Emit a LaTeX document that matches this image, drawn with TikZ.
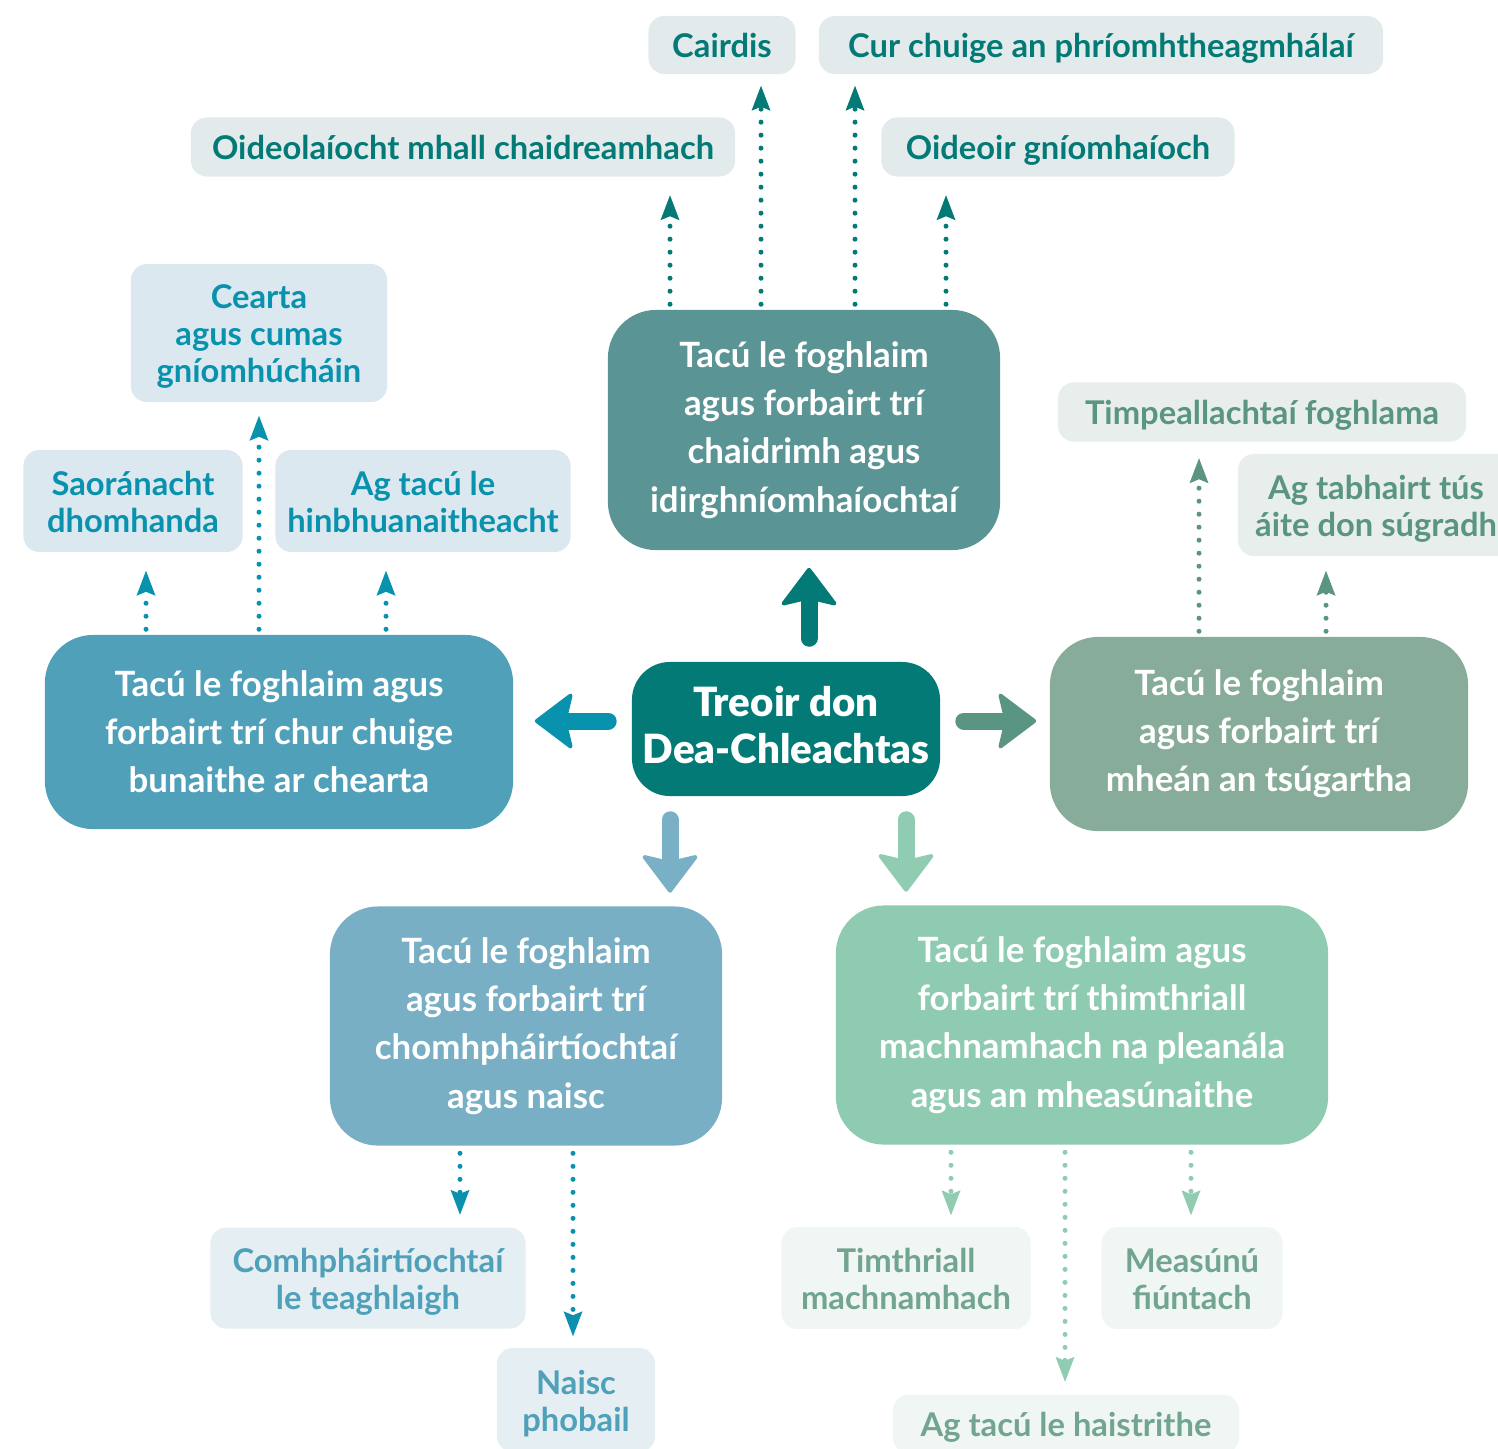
\documentclass[tikz,border=0pt]{standalone}
\usepackage{fontspec}
\setmainfont{Lato}
\newfontfamily\heavyfont{Lato Black}
\usetikzlibrary{arrows.meta}
\newcommand{\tst}{\rule{0pt}{0.987em}}

\definecolor{centreC}{HTML}{037A76}
\definecolor{gaolC}{HTML}{5A9494}
\definecolor{ceartaC}{HTML}{50A0B9}
\definecolor{sugradhC}{HTML}{87AD9A}
\definecolor{comhC}{HTML}{78AFC4}
\definecolor{measC}{HTML}{8FCBB0}
% arrow colours
\definecolor{ceartaA}{HTML}{0892AE}
\definecolor{sugradhA}{HTML}{5A9482}
\definecolor{comhA}{HTML}{7AB0C6}
\definecolor{measA}{HTML}{90CCB1}
% small box fills and texts
\definecolor{gaolF}{HTML}{E2EAEB}
\definecolor{ceartaF}{HTML}{DCE8EF}
\definecolor{sugradhF}{HTML}{E7EEEB}
\definecolor{comhF}{HTML}{E4EEF3}
\definecolor{comhT}{HTML}{4FA0B9}
\definecolor{comhD}{HTML}{0B91AD}
\definecolor{measF}{HTML}{F0F6F4}
\definecolor{measT}{HTML}{72A58F}

\tikzset{
  mainbox/.style={rounded corners=4.8mm, inner sep=0pt, align=center, text=white,
    font=\bfseries\fontsize{9.9}{13.7}\selectfont},
  subbox/.style={rounded corners=1.6mm, inner sep=0pt, align=center,
    font=\bfseries\fontsize{9.3}{10.5}\selectfont,
    execute at end node={\rule[-0.213em]{0pt}{0pt}}},
  fat/.style={line width=1.7mm, line cap=round, shorten <=2.3mm,
    -{Stealth[length=4mm, width=6mm, inset=0.7mm, round, line width=0.4mm]}},
  dots/.style={line width=0.5mm, line cap=round, dash pattern=on 0pt off 1.3mm,
    -{Stealth[length=2.5mm, width=1.9mm, inset=0.4mm, line width=0pt]}}
}

\begin{document}
\begin{tikzpicture}[x=0.01cm, y=-0.01cm]
    \useasboundingbox (0,0) rectangle (1498,1448);
    \clip (0,0) rectangle (1498,1448);

    % centre and the five main boxes
    \node[mainbox, rounded corners=3.8mm, fill=centreC, minimum width=3.08cm, minimum height=1.34cm,
          font=\heavyfont\fontsize{11.45}{13.4}\selectfont,
          execute at end node={\rule[-2.3pt]{0pt}{0pt}}] (centre) at (786,729) {Treoir don\\Dea-Chleachtas};
    \node[mainbox, fill=gaolC, minimum width=3.92cm, minimum height=2.40cm] (gaol) at (804,430)
        {Tacú le foghlaim\\agus forbairt trí\\chaidrimh agus\\idirghníomhaíochtaí};
    \node[mainbox, fill=ceartaC, minimum width=4.68cm, minimum height=1.94cm] (cearta) at (279,732)
        {Tacú le foghlaim agus\\forbairt trí chur chuige\\bunaithe ar chearta};
    \node[mainbox, fill=sugradhC, minimum width=4.18cm, minimum height=1.94cm] (sugradh) at (1259,734)
        {Tacú le foghlaim\\agus forbairt trí\\mheán an tsúgartha};
    \node[mainbox, fill=comhC, minimum width=3.92cm, minimum height=2.39cm] (comh) at (526,1026)
        {Tacú le foghlaim\\agus forbairt trí\\chomhpháirtíochtaí\\agus naisc};
    \node[mainbox, fill=measC, minimum width=4.92cm, minimum height=2.39cm] (meas) at (1082,1025)
        {Tacú le foghlaim agus\\forbairt trí thimthriall\\machnamhach na pleanála\\agus an mheasúnaithe};

    % small boxes, top
    \node[subbox, fill=gaolF, text=centreC, minimum width=1.47cm, minimum height=0.58cm] (sCairdis) at (722,45) {\tst Cairdis};
    \node[subbox, fill=gaolF, text=centreC, minimum width=5.64cm, minimum height=0.58cm] (sCur) at (1101,45) {\tst Cur chuige an phríomhtheagmhálaí};
    \node[subbox, fill=gaolF, text=centreC, minimum width=5.44cm, minimum height=0.59cm] (sOideol) at (463,147) {\tst Oideolaíocht mhall chaidreamhach};
    \node[subbox, fill=gaolF, text=centreC, minimum width=3.53cm, minimum height=0.59cm] (sOideoir) at (1058,147) {\tst Oideoir gníomhaíoch};
    % left
    \node[subbox, fill=ceartaF, text=ceartaA, minimum width=2.56cm, minimum height=1.38cm] (sCearta) at (259,333) {\tst Cearta\\agus cumas\\gníomhúcháin};
    \node[subbox, fill=ceartaF, text=ceartaA, minimum width=2.19cm, minimum height=1.02cm] (sSaor) at (133,501) {\tst Saoránacht\\dhomhanda};
    \node[subbox, fill=ceartaF, text=ceartaA, minimum width=2.95cm, minimum height=1.02cm] (sInbh) at (423,501) {\tst Ag tacú le\\hinbhuanaitheacht};
    % right
    \node[subbox, fill=sugradhF, text=sugradhA, minimum width=4.08cm, minimum height=0.59cm] (sTimp) at (1262,412) {\tst Timpeallachtaí foghlama};
    \node[subbox, fill=sugradhF, text=sugradhA, minimum width=2.76cm, minimum height=1.02cm] (sTabh) at (1376,505) {\tst Ag tabhairt tús\\áite don súgradh};
    % bottom left
    \node[subbox, fill=comhF, text=comhT, minimum width=3.15cm, minimum height=1.01cm] (sComh) at (368,1278) {\tst Comhpháirtíochtaí\\le teaghlaigh};
    \node[subbox, fill=comhF, text=comhT, minimum width=1.58cm, minimum height=1.04cm] (sNaisc) at (576,1400) {\tst Naisc\\phobail};
    % bottom right
    \node[subbox, fill=measF, text=measT, minimum width=2.49cm, minimum height=1.02cm] (sTimth) at (906,1278) {\tst Timthriall\\machnamhach};
    \node[subbox, fill=measF, text=measT, minimum width=1.81cm, minimum height=1.02cm] (sMeas) at (1192,1278) {\tst Measúnú\\fiúntach};
    \node[subbox, fill=measF, text=measT, minimum width=3.46cm, minimum height=0.59cm] (sAistr) at (1066,1424) {\tst Ag tacú le haistrithe};

    % thick arrows out of the centre
    \draw[fat, centreC, shorten >=1.7mm] (centre.north -| 809,0) -- (gaol.south -| 809,0);
    \draw[fat, ceartaA, shorten >=2.1mm] (centre.west |- 0,721) -- (cearta.east |- 0,721);
    \draw[fat, sugradhA, shorten >=1.3mm] (centre.east |- 0,721) -- (sugradh.west |- 0,721);
    \draw[fat, comhA, shorten >=1.3mm] (centre.south -| 670,0) -- (comh.north -| 670,0);
    \draw[fat, measA, shorten >=1.3mm] (centre.south -| 906,0) -- (meas.north -| 906,0);

    % dotted arrows to the small boxes
    \foreach \xx/\tgt/\gap in {670/sOideol/1.8, 761/sCairdis/1.1, 855/sCur/1.1, 946/sOideoir/1.8}
        \draw[dots, centreC, shorten <=0.5mm, shorten >=\gap mm] (gaol.north -| \xx,0) -- (\tgt.south -| \xx,0);
    \foreach \xx/\tgt/\gap in {146/sSaor/1.8, 259/sCearta/1.3, 386/sInbh/1.8}
        \draw[dots, ceartaA, shorten <=0.5mm, shorten >=\gap mm] (cearta.north -| \xx,0) -- (\tgt.south -| \xx,0);
    \foreach \xx/\tgt/\gap in {1199/sTimp/1.6, 1326/sTabh/1.4}
        \draw[dots, sugradhA, shorten <=0.5mm, shorten >=\gap mm] (sugradh.north -| \xx,0) -- (\tgt.south -| \xx,0);
    \foreach \xx/\tgt/\gap in {460/sComh/1.2, 573/sNaisc/1.1}
        \draw[dots, comhD, shorten <=0.7mm, shorten >=\gap mm] (comh.south -| \xx,0) -- (\tgt.north -| \xx,0);
    \foreach \xx/\tgt/\gap in {951/sTimth/1.1, 1065/sAistr/1.2, 1191/sMeas/1.1}
        \draw[dots, measA, shorten <=0.7mm, shorten >=\gap mm] (meas.south -| \xx,0) -- (\tgt.north -| \xx,0);
\end{tikzpicture}
\end{document}
